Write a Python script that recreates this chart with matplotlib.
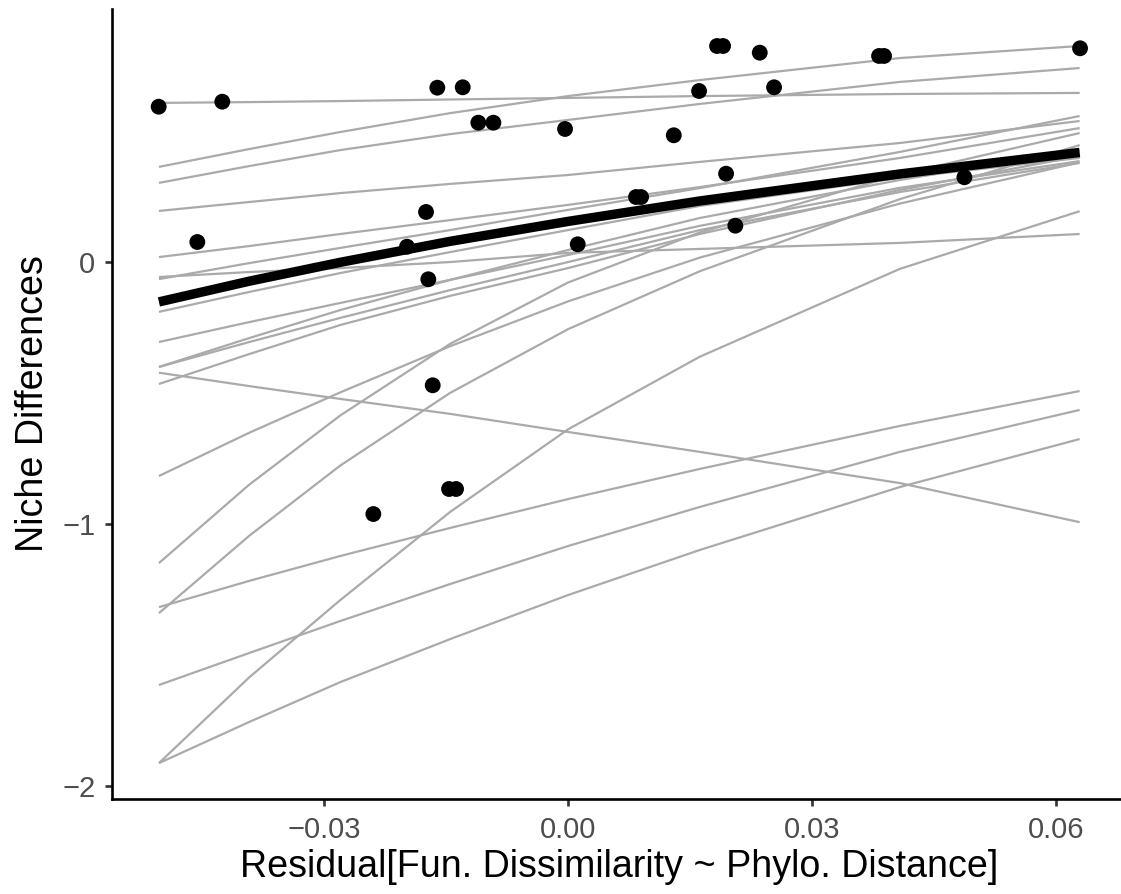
import matplotlib.pyplot as plt
import numpy as np

# Observed pairs
resid = [-0.05033, -0.04251, -0.04558, -0.01980, -0.01746, -0.01718, -0.01664, -0.01607,
         -0.01295, -0.01103, -0.00918, -0.00037, 0.00119, -0.02394, -0.01463, -0.01377,
         0.00836, 0.00898, 0.01300, 0.01611, 0.01832, 0.01906, 0.01943, 0.02057,
         0.02357, 0.02533, 0.03824, 0.03885, 0.04873, 0.06295]
niche = [0.5915, 0.6106, 0.0755, 0.0576, 0.190, -0.0667, -0.471, 0.664,
         0.6655, 0.5305, 0.5305, 0.5065, 0.0667, -0.962, -0.8665, -0.8665,
         0.247, 0.247, 0.4825, 0.6514, 0.823, 0.823, 0.336, 0.1377,
         0.7975, 0.6655, 0.785, 0.785, 0.3223, 0.8143]

# Fitted curves evaluated at these residual values
x_fit = [-0.0503, -0.0392, -0.0280, -0.0145, 0.0, 0.0162, 0.0408, 0.0629]

# one row per posterior draw
draws = [
    [0.606, 0.609, 0.613, 0.619, 0.625, 0.632, 0.640, 0.644],
    [0.362, 0.430, 0.495, 0.567, 0.632, 0.693, 0.777, 0.823],
    [0.301, 0.365, 0.426, 0.487, 0.541, 0.602, 0.686, 0.739],
    [0.194, 0.228, 0.262, 0.297, 0.331, 0.381, 0.453, 0.537],
    [0.018, 0.060, 0.106, 0.159, 0.217, 0.285, 0.396, 0.510],
    [-0.066, -0.005, 0.053, 0.121, 0.198, 0.281, 0.419, 0.556],
    [-0.058, -0.039, -0.024, -0.001, 0.034, 0.049, 0.072, 0.106],
    [-0.191, -0.115, -0.043, 0.037, 0.121, 0.213, 0.320, 0.396],
    [-0.306, -0.230, -0.157, -0.069, 0.026, 0.137, 0.282, 0.384],
    [-0.401, -0.291, -0.184, -0.069, 0.045, 0.167, 0.312, 0.426],
    [-0.401, -0.306, -0.214, -0.108, -0.001, 0.121, 0.266, 0.377],
    [-0.466, -0.352, -0.241, -0.130, -0.024, 0.106, 0.274, 0.403],
    [-0.817, -0.652, -0.498, -0.322, -0.151, 0.016, 0.222, 0.379],
    [-1.149, -0.850, -0.586, -0.313, -0.079, 0.112, 0.333, 0.491],
    [-1.340, -1.045, -0.777, -0.500, -0.257, -0.036, 0.239, 0.445],
    [-0.423, -0.474, -0.523, -0.580, -0.649, -0.725, -0.844, -0.993],
    [-1.317, -1.217, -1.122, -1.015, -0.905, -0.790, -0.626, -0.493],
    [-1.614, -1.492, -1.370, -1.229, -1.084, -0.935, -0.725, -0.565],
    [-1.912, -1.585, -1.290, -0.954, -0.639, -0.362, -0.027, 0.193],
    [-1.912, -1.755, -1.603, -1.439, -1.271, -1.099, -0.859, -0.676],
]
mean_fit = [-0.153, -0.074, -0.002, 0.078, 0.154, 0.232, 0.335, 0.417]

x_ticks = [-0.03, 0.0, 0.03, 0.06]
x_labels = ['\u22120.03', '0.00', '0.03', '0.06']
y_ticks = [-2, -1, 0]
y_labels = ['\u22122', '\u22121', '0']

plt.rcParams['font.family'] = ['Liberation Sans', 'DejaVu Sans']

fig = plt.figure(figsize=(11.21, 8.94), dpi=100)
ax = fig.add_axes([112 / 1121, 95 / 894, 1014 / 1121, 790 / 894])

for d in draws:
    ax.plot(x_fit, d, color='#aaaaaa', lw=1.6, solid_capstyle='butt', zorder=1)
ax.scatter(resid, niche, s=130, color='black', edgecolors='none', zorder=2)
ax.plot(x_fit, mean_fit, color='black', lw=6.8, solid_capstyle='butt', zorder=3)

ax.set_xlim(-0.05607, 0.0686)
ax.set_ylim(-2.0488, 0.9641)
ax.set_xticks(x_ticks)
ax.set_xticklabels(x_labels)
ax.set_yticks(y_ticks)
ax.set_yticklabels(y_labels)

for side in ['top', 'right']:
    ax.spines[side].set_visible(False)
for side in ['left', 'bottom']:
    ax.spines[side].set_linewidth(1.9)
ax.tick_params(length=5, width=1.9, color='#333333', labelcolor='#4d4d4d',
               labelsize=21, pad=7)

ax.set_xlabel('Residual[Fun. Dissimilarity ~ Phylo. Distance]', fontsize=27.1, labelpad=4)
ax.set_ylabel('Niche Differences', fontsize=27.1, labelpad=8)

fig.savefig('out.png', dpi=100)
